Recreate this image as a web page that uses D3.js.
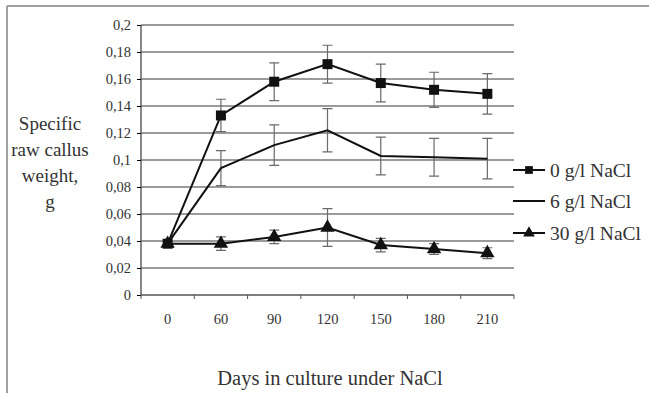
<!DOCTYPE html>
<meta charset="utf-8">
<style>
body { margin: 0; background: #fff; }
svg text { font-family: "Liberation Serif", "DejaVu Serif", serif; fill: #333; }
.grid line { stroke: #7a7a7a; stroke-width: 1.4px; }
.err { stroke: #6a6a6a; stroke-width: 1.2px; fill: none; }
.series { fill: none; stroke: #111; stroke-width: 2px; }
</style>
<body>
<div id="chart"></div>
<script src="https://cdn.jsdelivr.net/npm/d3@7"></script>
<script>
// ---- data ----
const days = ["0", "60", "90", "120", "150", "180", "210"];
const yTicks = [0, 0.02, 0.04, 0.06, 0.08, 0.1, 0.12, 0.14, 0.16, 0.18, 0.2];

const nacl0   = [0.038, 0.133, 0.158, 0.171, 0.157, 0.152, 0.149];
const nacl0E  = [0,     0.012, 0.014, 0.014, 0.014, 0.013, 0.015];
const nacl6   = [0.038, 0.094, 0.111, 0.122, 0.103, 0.102, 0.101];
const nacl6E  = [0,     0.013, 0.015, 0.016, 0.014, 0.014, 0.015];
const nacl30  = [0.038, 0.038, 0.043, 0.050, 0.037, 0.034, 0.031];
const nacl30E = [0,     0.005, 0.005, 0.014, 0.005, 0.004, 0.004];

const seriesNames = ["0 g/l NaCl", "6 g/l NaCl", "30 g/l NaCl"];
const seriesMarks = ["square", "none", "triangle"];

// ---- layout ----
const W = 649, H = 393;
const plot = {left: 141, right: 514, top: 25, bottom: 295};

const svg = d3.select("#chart").append("svg")
    .attr("width", W).attr("height", H);

// outer frame (top + left edges visible)
svg.append("line").attr("x1", 7).attr("x2", W).attr("y1", 6).attr("y2", 6)
    .attr("stroke", "#a0a0a0").attr("stroke-width", 2);
svg.append("line").attr("x1", 7).attr("x2", 7).attr("y1", 6).attr("y2", H)
    .attr("stroke", "#a0a0a0").attr("stroke-width", 2);

const x = d3.scaleBand().domain(days).range([plot.left, plot.right]).padding(0);
const y = d3.scaleLinear().domain([0, 0.2]).range([plot.bottom, plot.top]);
const cx = d => x(d) + x.bandwidth() / 2;
const fmt = v => String(+v.toFixed(2)).replace(".", ",");

// gridlines
svg.append("g").attr("class", "grid")
  .selectAll("line").data(yTicks.filter(v => v > 0)).join("line")
    .attr("x1", plot.left).attr("x2", plot.right)
    .attr("y1", d => y(d)).attr("y2", d => y(d));

// y axis
const yAxis = svg.append("g")
    .attr("transform", "translate(" + plot.left + ",0)")
    .call(d3.axisLeft(y).tickValues(yTicks).tickFormat(fmt).tickSize(4).tickPadding(6));
yAxis.attr("font-family", null);
yAxis.selectAll("text").style("font-size", "14.5px");

// x axis with ticks at band edges
const xAxis = svg.append("g")
    .attr("transform", "translate(0," + plot.bottom + ")")
    .call(d3.axisBottom(x).tickSize(0).tickPadding(19));
xAxis.attr("font-family", null);
xAxis.selectAll("text").style("font-size", "14.5px");
xAxis.selectAll(".tick line").remove();
const edges = days.map(d => x(d)).concat([plot.right]);
xAxis.selectAll(".edge").data(edges).join("line").attr("class", "edge")
    .attr("x1", d => d).attr("x2", d => d).attr("y1", 0).attr("y2", 4)
    .attr("stroke", "#555");
svg.selectAll(".domain").attr("stroke", "#555").attr("stroke-width", 1.4);
xAxis.select(".domain").attr("d", "M" + plot.left + ",0H" + plot.right);
yAxis.select(".domain").attr("d", "M0," + plot.bottom + "V" + plot.top);

// series
const all = [
  {vals: nacl0, err: nacl0E}, {vals: nacl6, err: nacl6E}, {vals: nacl30, err: nacl30E}
];
const line = d3.line().x((v, i) => cx(days[i])).y(v => y(v));

all.forEach((s, k) => {
  const g = svg.append("g");
  // error bars
  s.vals.forEach((v, i) => {
    const e = s.err[i];
    if (!e) return;
    const px = cx(days[i]);
    g.append("path").attr("class", "err")
      .attr("d", "M" + px + "," + y(v - e) + "V" + y(v + e) +
                 "M" + (px - 5) + "," + y(v + e) + "H" + (px + 5) +
                 "M" + (px - 5) + "," + y(v - e) + "H" + (px + 5));
  });
  g.append("path").datum(s.vals).attr("class", "series").attr("d", line);
  const mk = seriesMarks[k];
  if (mk !== "none") {
    const sym = d3.symbol().type(mk === "square" ? d3.symbolSquare : d3.symbolTriangle)
        .size(mk === "square" ? 100 : 90);
    g.selectAll("path.mk").data(s.vals).join("path").attr("class", "mk")
      .attr("transform", (v, i) => "translate(" + cx(days[i]) + "," + y(v) + ")")
      .attr("d", sym).attr("fill", "#111");
  }
});

// legend
const legY = [170, 201, 233];
seriesNames.forEach((name, k) => {
  const g = svg.append("g").attr("transform", "translate(513," + legY[k] + ")");
  g.append("line").attr("x1", 0).attr("x2", 32).attr("stroke", "#111").attr("stroke-width", 2);
  const mk = seriesMarks[k];
  if (mk !== "none") {
    g.append("path").attr("transform", "translate(16,0)")
      .attr("d", d3.symbol().type(mk === "square" ? d3.symbolSquare : d3.symbolTriangle)
        .size(60)).attr("fill", "#111");
  }
  g.append("text").attr("x", 37).attr("dy", "0.35em")
    .style("font-size", "19.5px").text(name);
});

// axis titles
const yTitle = ["Specific", "raw callus", "weight,", "g"];
svg.append("g").selectAll("text").data(yTitle).join("text")
    .attr("x", 50).attr("y", (d, i) => 130 + i * 26)
    .attr("text-anchor", "middle").style("font-size", "19px").text(d => d);

svg.append("text").attr("x", 330).attr("y", 385)
    .attr("text-anchor", "middle").style("font-size", "20.5px")
    .text("Days in culture under NaCl");
</script>
</body>
